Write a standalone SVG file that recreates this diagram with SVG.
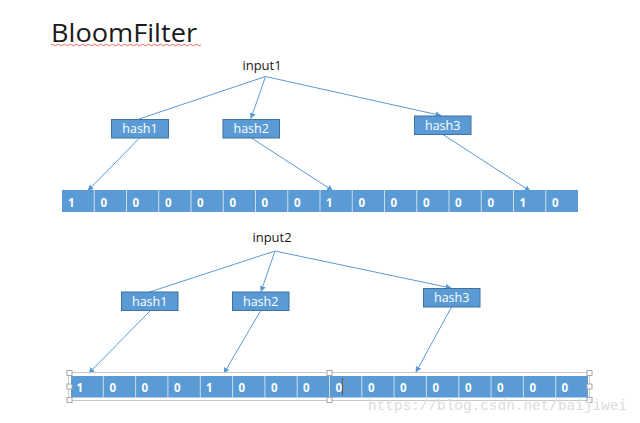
<svg xmlns="http://www.w3.org/2000/svg" width="640" height="423" viewBox="0 0 640 423">
<defs>
<marker id="ah" viewBox="0 0 10 10" refX="9" refY="5" markerWidth="6" markerHeight="6" markerUnits="userSpaceOnUse" orient="auto">
<path d="M0,0 L10,5 L0,10 z" fill="#5B9BD5"/>
</marker>
</defs>
<style>
.t{font-family:"Open Sans","Noto Sans","Liberation Sans",sans-serif;}
.box{fill:#5B9BD5;stroke:#41719C;stroke-width:1;}
.ht{font-family:"Open Sans","Noto Sans","Liberation Sans",sans-serif;font-size:12.5px;fill:#ffffff;text-anchor:middle;}
.lbl{font-family:"Open Sans","Noto Sans","Liberation Sans",sans-serif;font-size:13px;fill:#1a1a1a;text-anchor:middle;}
.cells{fill:#5B9BD5;}
.div{stroke:#c9dcf0;stroke-width:1;}
.d{font-family:"Open Sans","Noto Sans","Liberation Sans",sans-serif;font-size:11.5px;font-weight:bold;fill:#ffffff;}
.con{stroke:#5B9BD5;stroke-width:1;fill:none;}
.con.a{marker-end:url(#ah);}
.hd{fill:#ffffff;stroke:#a6a6a6;stroke-width:1;}
</style>
<rect width="640" height="423" fill="#ffffff"/>

<g id="title">
<text class="t" x="51" y="42" font-size="25" fill="#1a1a1a" textLength="146" lengthAdjust="spacingAndGlyphs">BloomFilter</text>
<path d="M51,45 q1.5,-1.5 3,0 t3,0 t3,0 t3,0 t3,0 t3,0 t3,0 t3,0 t3,0 t3,0 t3,0 t3,0 t3,0 t3,0 t3,0 t3,0 t3,0 t3,0 t3,0 t3,0 t3,0 t3,0 t3,0 t3,0 t3,0 t3,0 t3,0 t3,0 t3,0 t3,0 t3,0 t3,0 t3,0 t3,0 t3,0 t3,0 t3,0 t3,0 t3,0 t3,0 t3,0 t3,0 t3,0 t3,0 t3,0 t3,0 t3,0 t3,0 t3,0 t3,0" fill="none" stroke="#e8403a" stroke-width="0.8"/>
</g>

<g id="connectors">
<line class="con" x1="265.5" y1="76.5" x2="139" y2="119"/>
<line class="con a" x1="265.5" y1="76.5" x2="251" y2="118.5"/>
<line class="con a" x1="265.5" y1="76.5" x2="441" y2="115.5"/>
<line class="con a" x1="140" y1="137.5" x2="88" y2="190.5"/>
<line class="con a" x1="251.5" y1="138" x2="332.5" y2="190.5"/>
<line class="con a" x1="443" y1="134.5" x2="530" y2="191"/>

<line class="con" x1="275" y1="251" x2="149.5" y2="292"/>
<line class="con a" x1="275" y1="251" x2="261" y2="291.5"/>
<line class="con a" x1="275" y1="251" x2="451" y2="288"/>
<line class="con a" x1="150" y1="311" x2="89" y2="373"/>
<line class="con a" x1="260.5" y1="311" x2="224" y2="373"/>
<line class="con a" x1="451.5" y1="307" x2="416" y2="372"/>
</g>

<g id="input1"><text class="lbl" x="262" y="70">input1</text></g>
<g id="hash1-a"><rect class="box" x="111.5" y="119.5" width="57" height="18.5"/><text class="ht" x="140" y="133">hash1</text></g>
<g id="hash2-a"><rect class="box" x="223" y="119.5" width="56.5" height="18.5"/><text class="ht" x="251.2" y="133">hash2</text></g>
<g id="hash3-a"><rect class="box" x="414.5" y="116" width="56.5" height="18.5"/><text class="ht" x="442.7" y="129.5">hash3</text></g>

<g id="bits1">
<rect class="cells" x="62" y="190" width="516" height="22"/>
<g class="div">
<line x1="94.25" y1="190" x2="94.25" y2="212"/><line x1="126.5" y1="190" x2="126.5" y2="212"/><line x1="158.75" y1="190" x2="158.75" y2="212"/><line x1="191" y1="190" x2="191" y2="212"/><line x1="223.25" y1="190" x2="223.25" y2="212"/><line x1="255.5" y1="190" x2="255.5" y2="212"/><line x1="287.75" y1="190" x2="287.75" y2="212"/><line x1="320" y1="190" x2="320" y2="212"/><line x1="352.25" y1="190" x2="352.25" y2="212"/><line x1="384.5" y1="190" x2="384.5" y2="212"/><line x1="416.75" y1="190" x2="416.75" y2="212"/><line x1="449" y1="190" x2="449" y2="212"/><line x1="481.25" y1="190" x2="481.25" y2="212"/><line x1="513.5" y1="190" x2="513.5" y2="212"/><line x1="545.75" y1="190" x2="545.75" y2="212"/>
</g>
<g class="d">
<text x="68" y="207">1</text><text x="100.5" y="207">0</text><text x="132.5" y="207">0</text><text x="165" y="207">0</text><text x="197" y="207">0</text><text x="229.5" y="207">0</text><text x="261.5" y="207">0</text><text x="294" y="207">0</text><text x="326" y="207">1</text><text x="358.5" y="207">0</text><text x="390.5" y="207">0</text><text x="423" y="207">0</text><text x="455" y="207">0</text><text x="487.5" y="207">0</text><text x="519.5" y="207">1</text><text x="552" y="207">0</text>
</g>
</g>

<g id="input2"><text class="lbl" x="272" y="242">input2</text></g>
<g id="hash1-b"><rect class="box" x="121.5" y="292" width="56.5" height="18.5"/><text class="ht" x="149.7" y="305.5">hash1</text></g>
<g id="hash2-b"><rect class="box" x="232.5" y="292" width="56.5" height="18.5"/><text class="ht" x="260.7" y="305.5">hash2</text></g>
<g id="hash3-b"><rect class="box" x="423.5" y="288.5" width="56.5" height="18.5"/><text class="ht" x="451.7" y="302">hash3</text></g>

<g id="bits2">
<rect x="68.5" y="372.5" width="521" height="28" fill="none" stroke="#c8c8c8" stroke-width="1"/>
<rect class="cells" x="71" y="376" width="517" height="21.5"/>
<g class="div">
<line x1="103.3" y1="376" x2="103.3" y2="397.5"/><line x1="135.6" y1="376" x2="135.6" y2="397.5"/><line x1="167.9" y1="376" x2="167.9" y2="397.5"/><line x1="200.3" y1="376" x2="200.3" y2="397.5"/><line x1="232.6" y1="376" x2="232.6" y2="397.5"/><line x1="264.9" y1="376" x2="264.9" y2="397.5"/><line x1="297.2" y1="376" x2="297.2" y2="397.5"/><line x1="329.5" y1="376" x2="329.5" y2="397.5"/><line x1="361.8" y1="376" x2="361.8" y2="397.5"/><line x1="394.1" y1="376" x2="394.1" y2="397.5"/><line x1="426.4" y1="376" x2="426.4" y2="397.5"/><line x1="458.8" y1="376" x2="458.8" y2="397.5"/><line x1="491.1" y1="376" x2="491.1" y2="397.5"/><line x1="523.4" y1="376" x2="523.4" y2="397.5"/><line x1="555.7" y1="376" x2="555.7" y2="397.5"/>
</g>
<g class="d">
<text x="76.5" y="391.5">1</text><text x="109.5" y="391.5">0</text><text x="141.5" y="391.5">0</text><text x="174" y="391.5">0</text><text x="206" y="391.5">1</text><text x="238.5" y="391.5">0</text><text x="271" y="391.5">0</text><text x="303" y="391.5">0</text><text x="335.5" y="391.5">0</text><text x="368" y="391.5">0</text><text x="400" y="391.5">0</text><text x="432.5" y="391.5">0</text><text x="465" y="391.5">0</text><text x="497" y="391.5">0</text><text x="529.5" y="391.5">0</text><text x="561.5" y="391.5">0</text>
</g>
<line x1="342.5" y1="378" x2="342.5" y2="395" stroke="#7a5230" stroke-width="1"/>
<rect class="hd" x="67" y="370.5" width="5" height="5"/>
<rect class="hd" x="67" y="384" width="5" height="5"/>
<rect class="hd" x="67" y="397.5" width="5" height="5"/>
<rect class="hd" x="327" y="370.5" width="5" height="5"/>
<rect class="hd" x="327" y="397.5" width="5" height="5"/>
<rect class="hd" x="587" y="370.5" width="5" height="5"/>
<rect class="hd" x="587" y="384" width="5" height="5"/>
<rect class="hd" x="587" y="397.5" width="5" height="5"/>
</g>

<g id="watermark">
<text x="368" y="410" font-family="'Liberation Mono','DejaVu Sans Mono',monospace" font-size="14.4" fill="#dcdcdc" textLength="259" lengthAdjust="spacingAndGlyphs">https://blog.csdn.net/baijiwei</text>
</g>
</svg>
